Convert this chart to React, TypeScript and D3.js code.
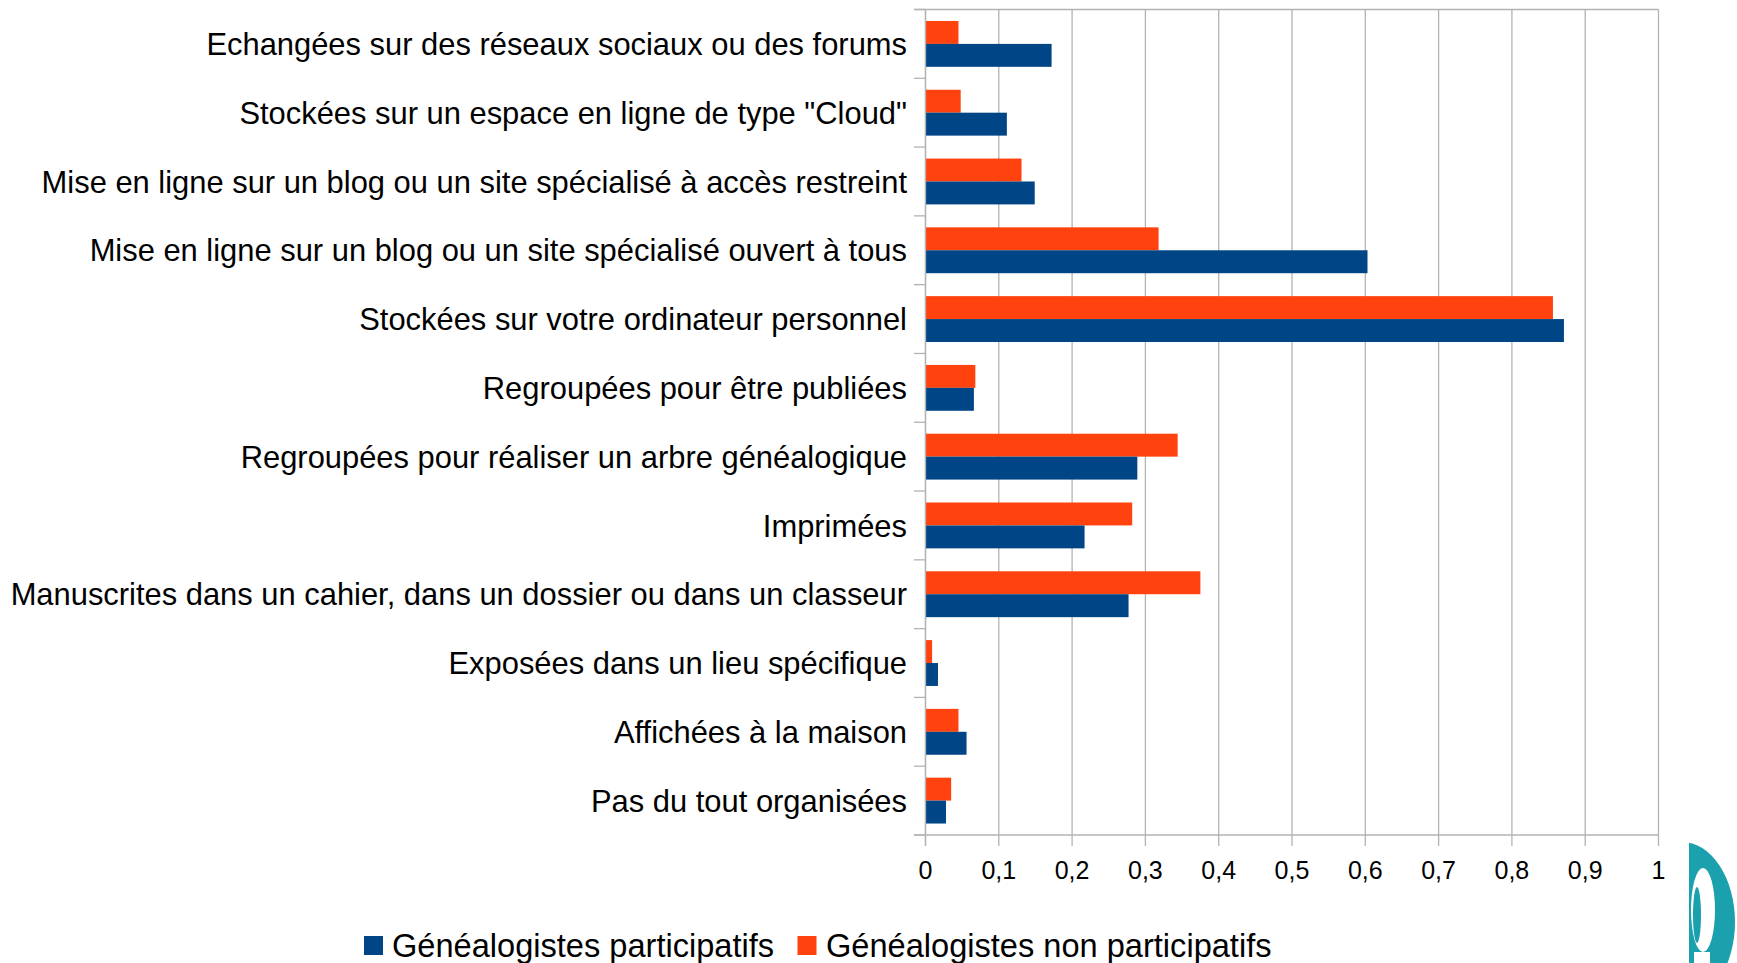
import React from "react";
import * as d3 from "d3";

const categories = [
  "Echangées sur des réseaux sociaux ou des forums",
  "Stockées sur un espace en ligne de type \"Cloud\"",
  "Mise en ligne sur un blog ou un site spécialisé à accès restreint",
  "Mise en ligne sur un blog ou un site spécialisé ouvert à tous",
  "Stockées sur votre ordinateur personnel",
  "Regroupées pour être publiées",
  "Regroupées pour réaliser un arbre généalogique",
  "Imprimées",
  "Manuscrites dans un cahier, dans un dossier ou dans un classeur",
  "Exposées dans un lieu spécifique",
  "Affichées à la maison",
  "Pas du tout organisées",
];

const participatifs = [0.172, 0.111, 0.149, 0.603, 0.871, 0.066, 0.289, 0.217, 0.277, 0.017, 0.056, 0.028];
const nonParticipatifs = [0.045, 0.048, 0.131, 0.318, 0.856, 0.068, 0.344, 0.282, 0.375, 0.009, 0.045, 0.035];

const xTicks = [0, 0.1, 0.2, 0.3, 0.4, 0.5, 0.6, 0.7, 0.8, 0.9, 1];
const seriesNames = ["Généalogistes participatifs", "Généalogistes non participatifs"];
const seriesColors = ["#004586", "#ff420e"];

const W = 1737;
const H = 963;
const FONT = "'Liberation Sans', Arial, sans-serif";

export default function App() {
  const x = d3.scaleLinear().domain([0, 1]).range([925.5, 1658.5]);
  const y = d3.scaleBand<string>().domain(categories).range([9.5, 835]).padding(0);
  const inner = d3
    .scaleBand<string>()
    .domain(["non", "part"])
    .range([0, y.bandwidth()])
    .paddingInner(0)
    .paddingOuter(0.5);
  const grid = "#b3b3b3";
  const boundaries = d3.range(categories.length + 1).map((i) => 9.5 + i * y.step());
  const fmt = (v: number) => String(v).replace(".", ",");

  return (
    <svg
      width={W}
      height={H}
      style={{ position: "absolute", left: 0, top: 0, background: "#fff" }}
      fontFamily={FONT}
    >
      <rect x={0} y={0} width={W} height={H} fill="#fff" />
      {xTicks.map((t) => (
        <line key={"g" + t} x1={x(t)} x2={x(t)} y1={9.5} y2={846} stroke={grid} strokeWidth={1.3} />
      ))}
      <line x1={914} x2={x(1)} y1={9.5} y2={9.5} stroke={grid} strokeWidth={1.3} />
      {boundaries.map((b, i) => (
        <line key={"ct" + i} x1={914} x2={x(0)} y1={b} y2={b} stroke={grid} strokeWidth={1.3} />
      ))}
      {categories.map((c, i) => (
        <g key={"b" + i} transform={`translate(0,${y(c)})`}>
          <rect
            x={x(0)}
            y={inner("non")}
            width={x(nonParticipatifs[i]) - x(0)}
            height={inner.bandwidth()}
            fill={seriesColors[1]}
          />
          <rect
            x={x(0)}
            y={inner("part")}
            width={x(participatifs[i]) - x(0)}
            height={inner.bandwidth()}
            fill={seriesColors[0]}
          />
        </g>
      ))}
      <line x1={x(0)} x2={x(0)} y1={9.5} y2={846} stroke={grid} strokeWidth={1.3} />
      <line x1={914} x2={x(1)} y1={835} y2={835} stroke={grid} strokeWidth={1.3} />
      {categories.map((c) => (
        <text
          key={"l" + c}
          x={907}
          y={(y(c) as number) + y.bandwidth() / 2}
          dy="0.36em"
          textAnchor="end"
          fontSize={30.9}
          fill="#000"
        >
          {c}
        </text>
      ))}
      {xTicks.map((t) => (
        <text key={"t" + t} x={x(t)} y={879} textAnchor="middle" fontSize={25} fill="#000">
          {fmt(t)}
        </text>
      ))}
      <rect x={364} y={936} width={19} height={19} fill={seriesColors[0]} />
      <text x={392} y={957} fontSize={32.6} fill="#000">
        {seriesNames[0]}
      </text>
      <rect x={797.5} y={936} width={19} height={19} fill={seriesColors[1]} />
      <text x={826} y={957} fontSize={32.6} fill="#000">
        {seriesNames[1]}
      </text>
      <defs>
        <clipPath id="logoClip">
          <rect x={1689} y={835} width={60} height={130} />
        </clipPath>
      </defs>
      <g clipPath="url(#logoClip)">
        <ellipse cx={1682} cy={922} rx={53} ry={80} fill="#1aa1ad" />
        <ellipse cx={1703} cy={910} rx={12} ry={42} fill="#fff" />
        <ellipse cx={1697} cy={915} rx={4} ry={28} fill="#1aa1ad" />
        <rect x={1694} y={952} width={16} height={13} fill="#fff" />
      </g>
    </svg>
  );
}
